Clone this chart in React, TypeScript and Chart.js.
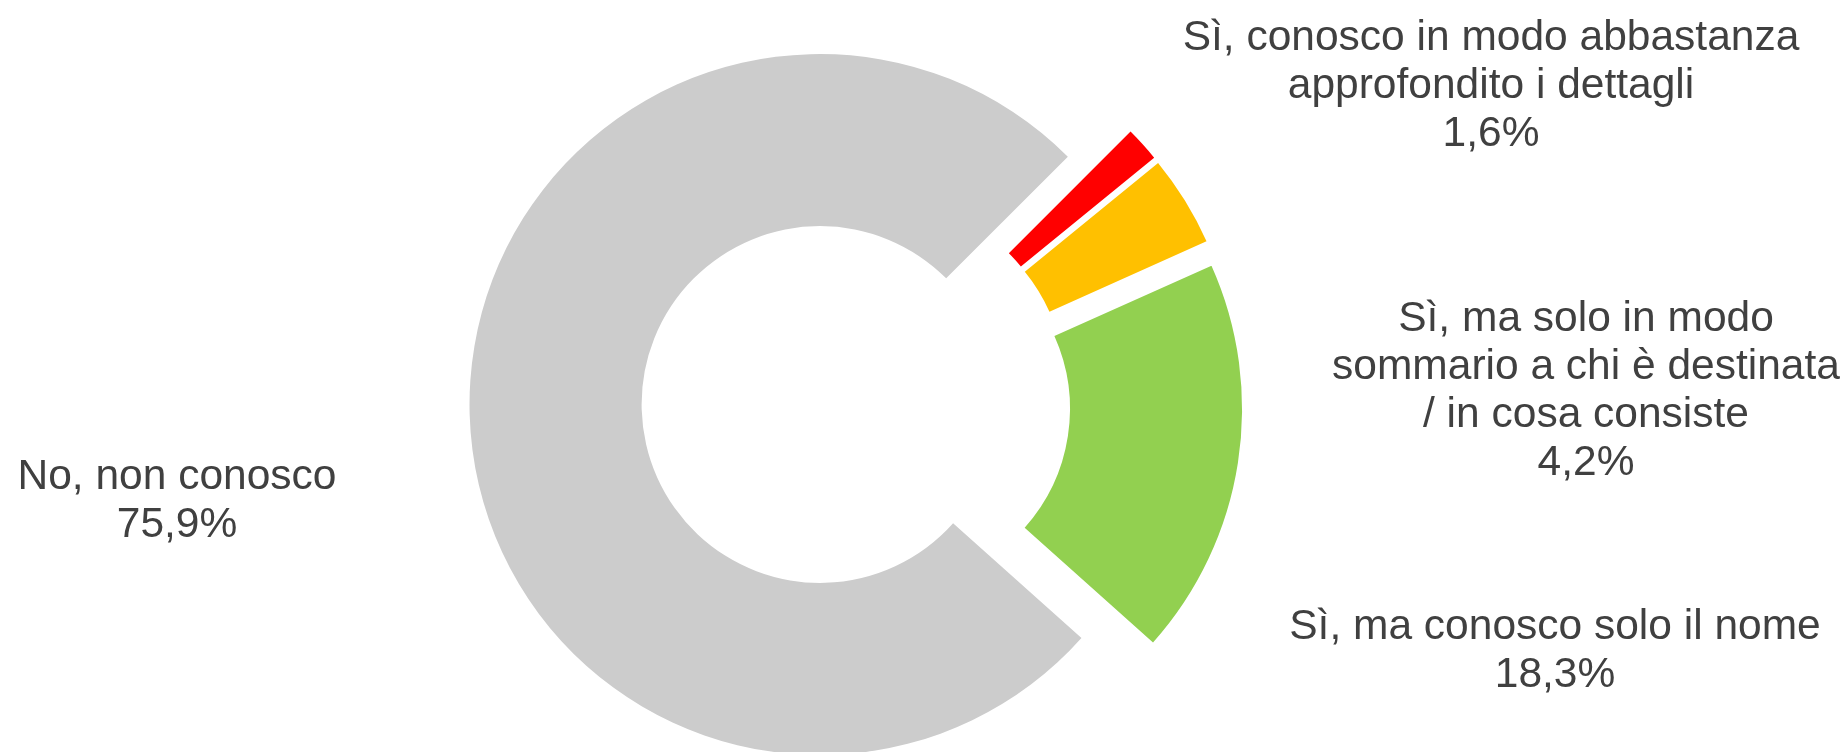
import React, { useEffect, useRef } from 'react';
import { Chart, registerables } from 'chart.js';

Chart.register(...registerables);

// ---- data ----
const categories = [
  'Sì, conosco in modo abbastanza approfondito i dettagli',
  'Sì, ma solo in modo sommario a chi è destinata / in cosa consiste',
  'Sì, ma conosco solo il nome',
  'No, non conosco',
];
const labelLines = [
  ['Sì, conosco in modo abbastanza', 'approfondito i dettagli'],
  ['Sì, ma solo in modo', 'sommario a chi è destinata', '/ in cosa consiste'],
  ['Sì, ma conosco solo il nome'],
  ['No, non conosco'],
];
const values = [1.6, 4.2, 18.3, 75.9];
const colors = ['#FF0000', '#FFC000', '#92D050', '#CCCCCC'];

// ---- layout / style ----
const W = 1848;
const H = 752;
const EXPLODE = 36;
const OUTER_RADIUS = 350.5;
const CUTOUT = '50.9%';
const FONT = '42.5px "Liberation Sans", Arial, sans-serif';
const TEXT_COLOR = '#404040';
const LINE_H = 48;
const labelAnchors = [
  { x: 1491, y: 50 },
  { x: 1586, y: 331 },
  { x: 1555, y: 639 },
  { x: 177, y: 489 },
];

const fmt = (v: number) => v.toFixed(1).replace('.', ',') + '%';

const explodePlugin = {
  id: 'explode',
  afterDatasetsUpdate(chart: any) {
    const meta = chart.getDatasetMeta(0);
    meta.data.forEach((arc: any) => {
      const mid = (arc.startAngle + arc.endAngle) / 2;
      arc.x += Math.cos(mid) * EXPLODE;
      arc.y += Math.sin(mid) * EXPLODE;
    });
  },
};

const labelPlugin = {
  id: 'outerLabels',
  afterDraw(chart: any) {
    const ctx = chart.ctx;
    ctx.save();
    ctx.font = FONT;
    ctx.fillStyle = TEXT_COLOR;
    ctx.textAlign = 'center';
    ctx.textBaseline = 'alphabetic';
    categories.forEach((_, i) => {
      const lines = [...labelLines[i], fmt(values[i])];
      const a = labelAnchors[i];
      lines.forEach((l, j) => ctx.fillText(l, a.x, a.y + j * LINE_H));
    });
    ctx.restore();
  },
};

export default function App() {
  const ref = useRef<HTMLCanvasElement | null>(null);
  useEffect(() => {
    if (!ref.current) return;
    const chart = new Chart(ref.current, {
      type: 'doughnut',
      data: {
        labels: categories,
        datasets: [
          {
            data: values,
            backgroundColor: colors,
            borderWidth: 0,
          },
        ],
      },
      options: {
        responsive: false,
        animation: false,
        events: [],
        rotation: 45,
        radius: OUTER_RADIUS,
        cutout: CUTOUT,
        layout: { padding: { left: 0, right: 136, top: 55, bottom: 0 } },
        plugins: {
          legend: { display: false },
          tooltip: { enabled: false },
        },
      },
      plugins: [explodePlugin, labelPlugin],
    });
    return () => chart.destroy();
  }, []);
  return (
    <div style={{ position: 'absolute', left: 0, top: 0, width: W, height: H, background: '#fff' }}>
      <canvas ref={ref} width={W} height={H} style={{ width: W, height: H, display: 'block' }} />
    </div>
  );
}
